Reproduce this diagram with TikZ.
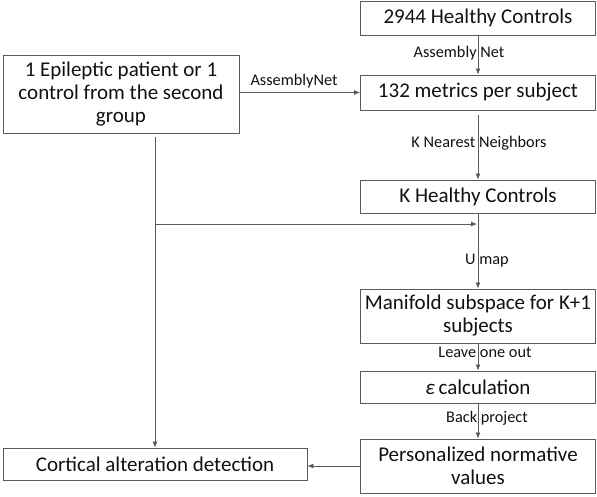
\documentclass[tikz,border=0pt]{standalone}
\usepackage{fontspec}
\setmainfont{Carlito}
\usetikzlibrary{arrows.meta}
\definecolor{linegray}{HTML}{5A5A5A}
\definecolor{txt}{HTML}{111111}
\tikzset{
  box/.style={draw=linegray, line width=0.9pt, rectangle, inner sep=0pt, align=center,
    text=txt, font=\fontsize{21}{23}\selectfont},
  lbl/.style={inner sep=0pt, text=txt, font=\fontsize{16.3}{18}\selectfont},
  arr/.style={draw=linegray, line width=0.8pt, -{Latex[length=6pt,width=5pt]}},
}
\begin{document}
\begin{tikzpicture}[x=1pt,y=-1pt]
\useasboundingbox (0,0) rectangle (597,496);
% boxes
\node[box, minimum width=235pt, minimum height=34pt] (A) at (478,18) {2944 Healthy Controls};
\node[box, minimum width=235pt, minimum height=35pt] (B) at (478,92.5) {132 metrics per subject};
\node[box, minimum width=236pt, minimum height=78pt] (E) at (121,94) {1 Epileptic patient or 1\\control from the second\\group};
\node[box, minimum width=235pt, minimum height=33pt] (K) at (478,196.5) {K Healthy Controls};
\node[box, minimum width=235pt, minimum height=54pt] (M) at (478,316) {Manifold subspace for K+1\\subjects};
\node[box, minimum width=235pt, minimum height=32pt] (Eps) at (478,387) {{\itshape ε}\,calculation};
\node[box, minimum width=235pt, minimum height=54pt] (P) at (478,466) {Personalized normative\\values};
\node[box, minimum width=304pt, minimum height=32pt] (C) at (155,464) {Cortical alteration detection};
% connectors
\draw[arr] (A.south) -- (B.north);
\draw[arr] (E.east |- B.west) -- (B.west);
\draw[arr, shorten <=5pt] (B.south) -- (K.north);
\draw[arr] (K.south) -- (M.north);
\draw[arr] (M.south) -- (Eps.north);
\draw[arr] (Eps.south) -- (P.north);
\draw[arr, shorten <=4pt] (E.south -| C.north) -- (C.north);
\coordinate (br) at (155,224);
\coordinate (jn) at (477,224);
\draw[arr] (br) -- (jn);
\draw[arr] (P.west) -- (P.west -| C.east);
% labels
\node[lbl] (l1) at (459,53) {Assembly Net};
\node[lbl] (l2) at (294,81) {AssemblyNet};
\node[lbl] (l3) at (479,143) {K Nearest Neighbors};
\node[lbl] (l4) at (487,261) {U map};
\node[lbl] (l5) at (485,352) {Leave one out};
\node[lbl] (l6) at (487,418) {Back project};
\end{tikzpicture}
\end{document}
